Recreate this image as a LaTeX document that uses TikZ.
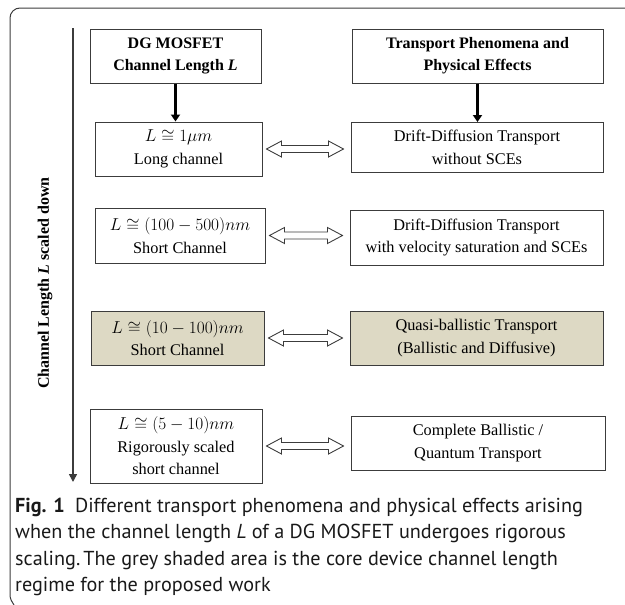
\documentclass[tikz,border=0pt]{standalone}
\usepackage{fontspec}
\setmainfont{Liberation Serif}
\newfontfamily\capfont{PT Sans}
\usetikzlibrary{arrows.meta,calc}
\definecolor{shade}{RGB}{221,217,196}
\definecolor{frame}{RGB}{60,60,60}
\tikzset{
  box/.style={draw=frame, line width=1pt, align=center, font=\fontsize{16.3}{22.5}\selectfont},
  head/.style={box, font=\fontsize{16}{22}\selectfont\bfseries},
  regime/.style={box, fill=shade},
  hollow/.style={draw=frame, line width=0.9pt, line join=miter},
  down/.style={line width=3.5pt, -{Triangle[width=9pt,length=7pt]}}
}
\begin{document}
\begin{tikzpicture}[x=1pt,y=-1pt]
\useasboundingbox (0,0) rectangle (625,605);
% outer frame
\draw[frame, line width=1pt] (625,8) -- (20,8) to[out=180, in=90] (10,18) -- (10,595) to[out=-90, in=120] (14,605);
% headers
\node[head, minimum width=171pt, minimum height=54pt] (hl) at (175.5,56) {DG MOSFET\\Channel Length \textit{L}};
\node[head, minimum width=251pt, minimum height=54pt] (hr) at (477.5,56) {Transport Phenomena and\\Physical Effects};
% left column
\node[box, minimum width=167pt, minimum height=54pt] (l1) at (178.5,149) {$L \cong 1\mu m$\\Long channel};
\node[box, minimum width=170pt, minimum height=55pt] (l2) at (180,235.5) {$L \cong (100-500)nm$\\Short Channel};
\node[regime, minimum width=173pt, minimum height=54pt] (l3) at (177.5,338) {$L \cong (10-100)nm$\\Short Channel};
\node[box, minimum width=172pt, minimum height=74pt] (l4) at (176,446) {$L \cong (5-10)nm$\\Rigorously scaled\\short channel};
% right column
\node[box, minimum width=252pt, minimum height=50pt] (r1) at (477,147.5) {Drift-Diffusion Transport\\without SCEs};
\node[box, minimum width=253pt, minimum height=55pt] (r2) at (476.5,237.5) {Drift-Diffusion Transport\\with velocity saturation and SCEs};
\node[regime, minimum width=253pt, minimum height=54pt] (r3) at (476.5,338) {Quasi-ballistic Transport\\(Ballistic and Diffusive)};
\node[box, minimum width=254pt, minimum height=54pt] (r4) at (478,443) {Complete Ballistic /\\Quantum Transport};
% arrows
\draw[down] (hl.south) -- (hl.south |- l1.north);
\draw[down] (hr.south) -- (hr.south |- r1.north);
% hollow double arrows between the columns
\foreach \i in {1,...,4}{
  \coordinate (a\i) at ($(l\i.east)+(4pt,0)$);
  \coordinate (b\i) at ($(l\i.east -| r\i.west)+(-7pt,0)$);
  \draw[hollow] (a\i) -- ($(a\i)+(15pt,8pt)$) -- ($(a\i)+(15pt,3.5pt)$) -- ($(b\i)+(-15pt,3.5pt)$)
    -- ($(b\i)+(-15pt,8pt)$) -- (b\i) -- ($(b\i)+(-15pt,-8pt)$) -- ($(b\i)+(-15pt,-3.5pt)$)
    -- ($(a\i)+(15pt,-3.5pt)$) -- ($(a\i)+(15pt,-8pt)$) -- cycle;
}
% scaling axis
\coordinate (atop) at (73,28);
\coordinate (abot) at (73,482);
\draw[frame, line width=1.6pt, -{Triangle[width=8pt,length=8pt]}] (atop) -- (abot);
\node[rotate=90, font=\fontsize{16}{18}\selectfont\bfseries] (axl) at (45,283) {Channel Length \textit{L} scaled down};
% caption
\node[anchor=north west, align=left, inner sep=0pt, text=black!90, font=\capfont\fontsize{20.2}{26.3}\selectfont] (cap) at (15,498)
  {\textbf{Fig. 1}\hspace{0.5em}Different transport phenomena and physical effects arising\\
   when the channel length \textit{L} of a DG MOSFET undergoes rigorous\\
   scaling.\hspace{0.15em}The grey shaded area is the core device channel length\\
   regime for the proposed work};
\end{tikzpicture}
\end{document}
